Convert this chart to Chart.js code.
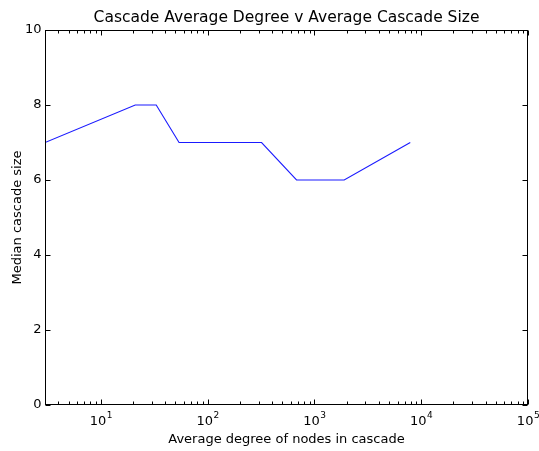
<!DOCTYPE html>
<html>
<head>
<meta charset="utf-8">
<script src="https://cdn.jsdelivr.net/npm/chart.js@4.4.0/dist/chart.umd.min.js"></script>
<style>
  html, body { margin: 0; padding: 0; background: #ffffff; }
  canvas { display: block; }
</style>
</head>
<body>
<canvas id="c" width="539" height="451"></canvas>
<script>
// Average node degree per cascade and the median cascade size at that degree
const degrees = [3, 21, 33, 54, 320, 680, 1900, 7900];
const medianSizes = [7, 8, 8, 7, 7, 6, 6, 7];

// Axis ticks
const xDecades = [1, 2, 3, 4, 5];          // labelled as 10^n
const yTicks = [0, 2, 4, 6, 8, 10];

const titleText = 'Cascade Average Degree v Average Cascade Size';
const xTitle = 'Average degree of nodes in cascade';
const yTitle = 'Median cascade size';

const FONT = '"DejaVu Sans", sans-serif';

// Draws the boxed frame, inward ticks, tick labels and titles
const frameAndLabels = {
  id: 'frameAndLabels',
  afterDraw(chart) {
    const ctx = chart.ctx;
    const a = chart.chartArea;
    const xs = chart.scales.x;
    const ys = chart.scales.y;
    const L = Math.round(a.left) + 0.5, R = Math.round(a.right) - 0.5;
    const T = Math.round(a.top) + 0.5, B = Math.round(a.bottom) - 0.5;

    ctx.save();
    ctx.strokeStyle = '#000000';
    ctx.lineWidth = 1;
    ctx.strokeRect(L, T, R - L, B - T);

    // x ticks: major at decades, minor at 2..9 of each decade
    ctx.beginPath();
    for (let e = 0; e <= 5; e++) {
      const base = Math.pow(10, e);
      for (let m = 1; m <= 9; m++) {
        const v = base * m;
        if (v < xs.min || v > xs.max) continue;
        const px = Math.round(xs.getPixelForValue(v)) + 0.5;
        const len = m === 1 ? 5 : 3;
        ctx.moveTo(px, B); ctx.lineTo(px, B - len);
        ctx.moveTo(px, T); ctx.lineTo(px, T + len);
      }
    }
    // y ticks on both sides
    yTicks.forEach(v => {
      const py = Math.round(ys.getPixelForValue(v)) + 0.5;
      ctx.moveTo(L, py); ctx.lineTo(L + 5, py);
      ctx.moveTo(R, py); ctx.lineTo(R - 5, py);
    });
    ctx.stroke();

    ctx.fillStyle = '#000000';
    // y tick labels
    ctx.font = '13px ' + FONT;
    ctx.textAlign = 'right';
    ctx.textBaseline = 'middle';
    yTicks.forEach(v => {
      ctx.fillText(String(v), L - 4, ys.getPixelForValue(v));
    });

    // x tick labels as 10 with a raised exponent
    xDecades.forEach(n => {
      const px = xs.getPixelForValue(Math.pow(10, n));
      ctx.font = '13px ' + FONT;
      const wb = ctx.measureText('10').width;
      ctx.font = '9px ' + FONT;
      const we = ctx.measureText(String(n)).width;
      const start = px - (wb + we) / 2;
      ctx.textAlign = 'left';
      ctx.textBaseline = 'alphabetic';
      ctx.font = '13px ' + FONT;
      ctx.fillText('10', start, 425);
      ctx.font = '9px ' + FONT;
      ctx.fillText(String(n), start + wb + 0.5, 418);
    });

    // axis titles
    ctx.font = '13px ' + FONT;
    ctx.textAlign = 'center';
    ctx.textBaseline = 'alphabetic';
    ctx.fillText(xTitle, (a.left + a.right) / 2, 443);

    ctx.save();
    ctx.translate(21, (a.top + a.bottom) / 2);
    ctx.rotate(-Math.PI / 2);
    ctx.textBaseline = 'alphabetic';
    ctx.fillText(yTitle, 0, 0);
    ctx.restore();

    // chart title
    ctx.font = '15.5px ' + FONT;
    ctx.textAlign = 'center';
    ctx.fillText(titleText, (a.left + a.right) / 2, 22);
    ctx.restore();
  }
};

new Chart(document.getElementById('c'), {
  type: 'line',
  data: {
    datasets: [{
      data: degrees.map((d, i) => ({ x: d, y: medianSizes[i] })),
      borderColor: '#1a1aff',
      borderWidth: 1.1,
      pointRadius: 0,
      tension: 0,
      fill: false
    }]
  },
  options: {
    responsive: false,
    animation: false,
    devicePixelRatio: 1,
    layout: { padding: { left: 45, right: 11, top: 30, bottom: 46 } },
    plugins: { legend: { display: false }, title: { display: false }, tooltip: { enabled: false } },
    scales: {
      x: { type: 'logarithmic', min: 3, max: 100000, display: false },
      y: { type: 'linear', min: 0, max: 10, display: false }
    }
  },
  plugins: [frameAndLabels]
});
</script>
</body>
</html>
